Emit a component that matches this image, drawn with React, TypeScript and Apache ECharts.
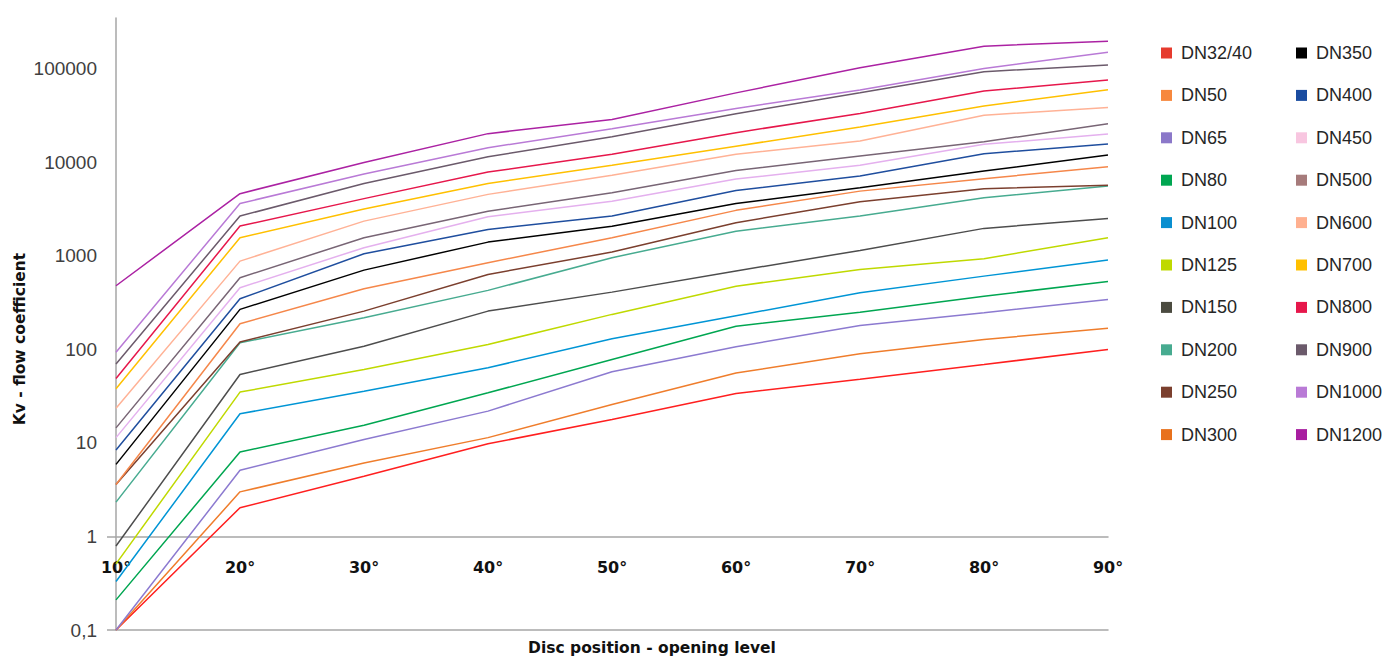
import React, { useEffect, useRef } from "react";
import * as echarts from "echarts";

const categories = ["10°", "20°", "30°", "40°", "50°", "60°", "70°", "80°", "90°"];

const seriesNames = [
  "DN32/40", "DN50", "DN65", "DN80", "DN100", "DN125", "DN150", "DN200", "DN250", "DN300",
  "DN350", "DN400", "DN450", "DN500", "DN600", "DN700", "DN800", "DN900", "DN1000", "DN1200",
];

const dn32 = [0.1, 2.03, 4.4, 9.8, 17.8, 33.8, 48, 69, 100];
const dn50 = [0.1, 3.0, 6.1, 11.4, 25.8, 56, 90, 128, 168];
const dn65 = [0.1, 5.1, 10.9, 21.9, 57.7, 107, 180, 247, 343];
const dn80 = [0.21, 8.0, 15.5, 34.4, 78, 177, 250, 371, 534];
const dn100 = [0.33, 20.5, 35.8, 63.7, 130, 229, 404, 608, 902];
const dn125 = [0.51, 35, 61, 113, 237, 475, 717, 933, 1566];
const dn150 = [0.79, 54, 108, 257, 410, 690, 1145, 1970, 2520];
const dn200 = [2.33, 118, 218, 428, 957, 1840, 2670, 4190, 5580];
const dn250 = [3.6, 120, 257, 634, 1099, 2265, 3800, 5230, 5680];
const dn300 = [3.6, 188, 446, 845, 1566, 3070, 4930, 6700, 9000];
const dn350 = [5.9, 268, 705, 1405, 2080, 3640, 5360, 8070, 11970];
const dn400 = [8.4, 348, 1055, 1920, 2670, 5020, 7140, 12400, 15700];
const dn450 = [11.4, 457, 1225, 2625, 3850, 6630, 9300, 15600, 20100];
const dn500 = [14.5, 585, 1565, 3010, 4740, 8200, 11700, 16600, 25900];
const dn600 = [23.5, 880, 2355, 4550, 7300, 12200, 16900, 32000, 38700];
const dn700 = [38, 1565, 3170, 5960, 9300, 14900, 23900, 40000, 59900];
const dn800 = [49, 2085, 4100, 7880, 12200, 20800, 33400, 58000, 75900];
const dn900 = [70, 2670, 5960, 11500, 18800, 33200, 55600, 93300, 110000];
const dn1000 = [93.5, 3640, 7500, 14360, 22900, 37800, 59300, 101000, 151000];
const dn1200 = [480, 4630, 10000, 20300, 28800, 55400, 103000, 175000, 198000];

const seriesValues = [
  dn32, dn50, dn65, dn80, dn100, dn125, dn150, dn200, dn250, dn300,
  dn350, dn400, dn450, dn500, dn600, dn700, dn800, dn900, dn1000, dn1200,
];

const lineColors = [
  "#ff1f1f", "#ef7d2c", "#8c7ad0", "#00a651", "#0095d5", "#bfd900", "#4d4d4d", "#47ab90", "#7b3f2e", "#f5874a",
  "#000000", "#1f4e9e", "#e4b0ee", "#786575", "#ffb296", "#ffc000", "#e6174b", "#6b5a6b", "#b97ad6", "#ab22a3",
];

const legendColors = [
  "#e63b2e", "#f7883e", "#8b78c9", "#00a651", "#0a8fd0", "#bfd900", "#4b4b40", "#47ab90", "#7b3f2e", "#e8711c",
  "#000000", "#1a4ca0", "#f8c6e0", "#a67b7b", "#ffb090", "#ffc000", "#e6174b", "#6b5a6b", "#b97ad6", "#a81ea0",
];

const yTickValues = [0.1, 1, 10, 100, 1000, 10000, 100000];

const Y_MIN = 0.1;
const Y_MAX = 350000;
const GRID_TOP = 18;
const GRID_BOTTOM = 27;
const W = 1385;
const H = 657;

const bodyFont = "Liberation Sans";
const heavyFont = "DejaVu Sans";

export default function App() {
  const ref = useRef<HTMLDivElement>(null);

  useEffect(() => {
    if (!ref.current) return;
    const chart = echarts.init(ref.current, null, { renderer: "svg" });

    const gridH = H - GRID_TOP - GRID_BOTTOM;
    const pxPerDecade = gridH / (Math.log10(Y_MAX) - Math.log10(Y_MIN));
    const crossOffset = -(Math.log10(1) - Math.log10(Y_MIN)) * pxPerDecade;

    const legendBlock = (start: number, left: number) => ({
      data: seriesNames.slice(start, start + 10).map((n, i) => ({
        name: n,
        itemStyle: { color: legendColors[start + i] },
      })),
      orient: "vertical",
      left,
      top: 43,
      padding: 0,
      itemWidth: 11,
      itemHeight: 11,
      itemGap: 22.4,
      icon: "rect",
      textStyle: {
        fontFamily: bodyFont,
        fontSize: 18,
        color: "#262626",
        lineHeight: 20,
        padding: [0, 0, 0, 4],
      },
    });

    const fmt = (v: number) => {
      const lg = Math.log10(v);
      if (Math.abs(lg - Math.round(lg)) > 1e-6) return "";
      const r = Math.pow(10, Math.round(lg));
      return r < 1 ? String(Number(r.toPrecision(3))).replace(".", ",") : String(Math.round(r));
    };

    chart.setOption({
      animation: false,
      grid: { left: 116, right: 277, top: GRID_TOP, bottom: GRID_BOTTOM, containLabel: false },
      legend: [legendBlock(0, 1161), legendBlock(10, 1296)],
      xAxis: [
        {
          type: "category",
          data: categories,
          boundaryGap: false,
          position: "bottom",
          axisLine: { show: true, lineStyle: { color: "#a6a6a6", width: 1.5 } },
          axisTick: { show: false },
          axisLabel: { show: false },
          splitLine: { show: false },
        },
        {
          type: "category",
          data: categories,
          boundaryGap: false,
          position: "bottom",
          offset: crossOffset,
          axisLine: { show: true, onZero: false, lineStyle: { color: "#a6a6a6", width: 1.5 } },
          axisTick: { show: false },
          axisLabel: {
            show: true,
            margin: 23,
            fontFamily: heavyFont,
            fontWeight: "bold",
            fontSize: 16,
            color: "#111111",
          },
          splitLine: { show: false },
        },
      ],
      yAxis: {
        type: "log",
        logBase: 10,
        min: Y_MIN,
        max: Y_MAX,
        axisLine: { show: true, lineStyle: { color: "#a6a6a6", width: 1.5 } },
        axisTick: {
          show: true,
          customValues: [0.1, 1],
          length: 9,
          lineStyle: { color: "#a6a6a6", width: 1.5 },
        },
        axisLabel: {
          customValues: yTickValues,
          formatter: fmt,
          margin: 19,
          fontFamily: bodyFont,
          fontSize: 19,
          color: "#404040",
        },
        splitLine: { show: false },
      },
      series: seriesNames.map((name, i) => ({
        name,
        type: "line",
        data: seriesValues[i],
        symbol: "none",
        showSymbol: false,
        lineStyle: { color: lineColors[i], width: 1.5 },
        itemStyle: { color: lineColors[i] },
      })),
      graphic: [
        {
          type: "text",
          x: 20,
          y: 339,
          rotation: Math.PI / 2,
          style: {
            text: "Kv - flow coefficient",
            fontFamily: heavyFont,
            fontWeight: "bold",
            fontSize: 15.5,
            fill: "#111111",
            textAlign: "center",
            textVerticalAlign: "middle",
          },
        },
        {
          type: "text",
          x: 652,
          y: 648,
          style: {
            text: "Disc position - opening level",
            fontFamily: heavyFont,
            fontWeight: "bold",
            fontSize: 15.5,
            fill: "#111111",
            textAlign: "center",
            textVerticalAlign: "middle",
          },
        },
      ],
    });

    return () => chart.dispose();
  }, []);

  return (
    <div
      ref={ref}
      style={{ position: "absolute", left: 0, top: 0, width: W, height: H }}
    />
  );
}
